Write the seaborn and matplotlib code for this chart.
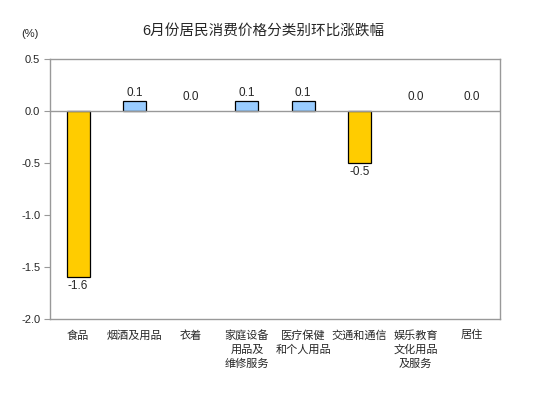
import matplotlib
matplotlib.use("Agg")
import matplotlib.pyplot as plt
import seaborn as sns
import pandas as pd

categories = ["食品", "烟酒及用品", "衣着", "家庭设备\n用品及\n维修服务", "医疗保健\n和个人用品",
              "交通和通信", "娱乐教育\n文化用品\n及服务", "居住"]
values = [-1.6, 0.1, 0.0, 0.1, 0.1, -0.5, 0.0, 0.0]
yticks = [0.5, 0.0, -0.5, -1.0, -1.5, -2.0]
title = "6月份居民消费价格分类别环比涨跌幅"

sns.set_style("white")
plt.rcParams['font.family'] = ['Liberation Sans', 'Noto Sans CJK SC', 'DejaVu Sans']

df = pd.DataFrame({"cat": categories, "val": values,
                   "sign": ["neg" if v < 0 else "pos" for v in values]})

fig = plt.figure(figsize=(5.55, 3.99), dpi=100)
ax = fig.add_axes([50/555, 80/399, 450/555, 260/399])
sns.barplot(data=df, x="cat", y="val", hue="sign",
            palette={"neg": "#FFCC00", "pos": "#99CCFF"}, saturation=1,
            dodge=False, width=0.41, edgecolor="black", linewidth=0.9,
            legend=False, ax=ax)
for p in ax.patches:
    if abs(p.get_height()) < 1e-9:
        p.set_linewidth(0)

ax.set_ylim(-2.0, 0.5)
ax.set_xlim(-0.5, len(categories) - 0.5)
ax.set_yticks(yticks)
ax.set_yticklabels([f"{t:.1f}" for t in yticks], fontsize=8)
ax.tick_params(axis="y", direction="out", length=4, width=0.8, color="#999999", pad=3, left=True)
ax.tick_params(axis="x", length=0, pad=8, labelsize=8)
for lbl in ax.get_xticklabels():
    lbl.set_linespacing(1.45)
ax.set_xlabel("")
ax.set_ylabel("")
for s in ax.spines.values():
    s.set_color("#999999")
    s.set_linewidth(1.0)
ax.axhline(0, color="#999999", linewidth=1.0, zorder=1)

for i, v in enumerate(values):
    if v < 0:
        ax.annotate(f"{v:.1f}", (i, v), xytext=(0, -2), textcoords="offset points",
                    ha="center", va="top", fontsize=8.5)
    elif v > 0:
        ax.annotate(f"{v:.1f}", (i, v), xytext=(0, 1), textcoords="offset points",
                    ha="center", va="bottom", fontsize=8.5)
    else:
        ax.annotate(f"{v:.1f}", (i, v), xytext=(0, 6), textcoords="offset points",
                    ha="center", va="bottom", fontsize=8.5)

fig.text(263/555, 1 - 31/399, title, ha="center", va="center", fontsize=10.5)
fig.text(30/555, 1 - 34/399, "(%)", ha="center", va="center", fontsize=8)

fig.savefig("out.png", dpi=100)
